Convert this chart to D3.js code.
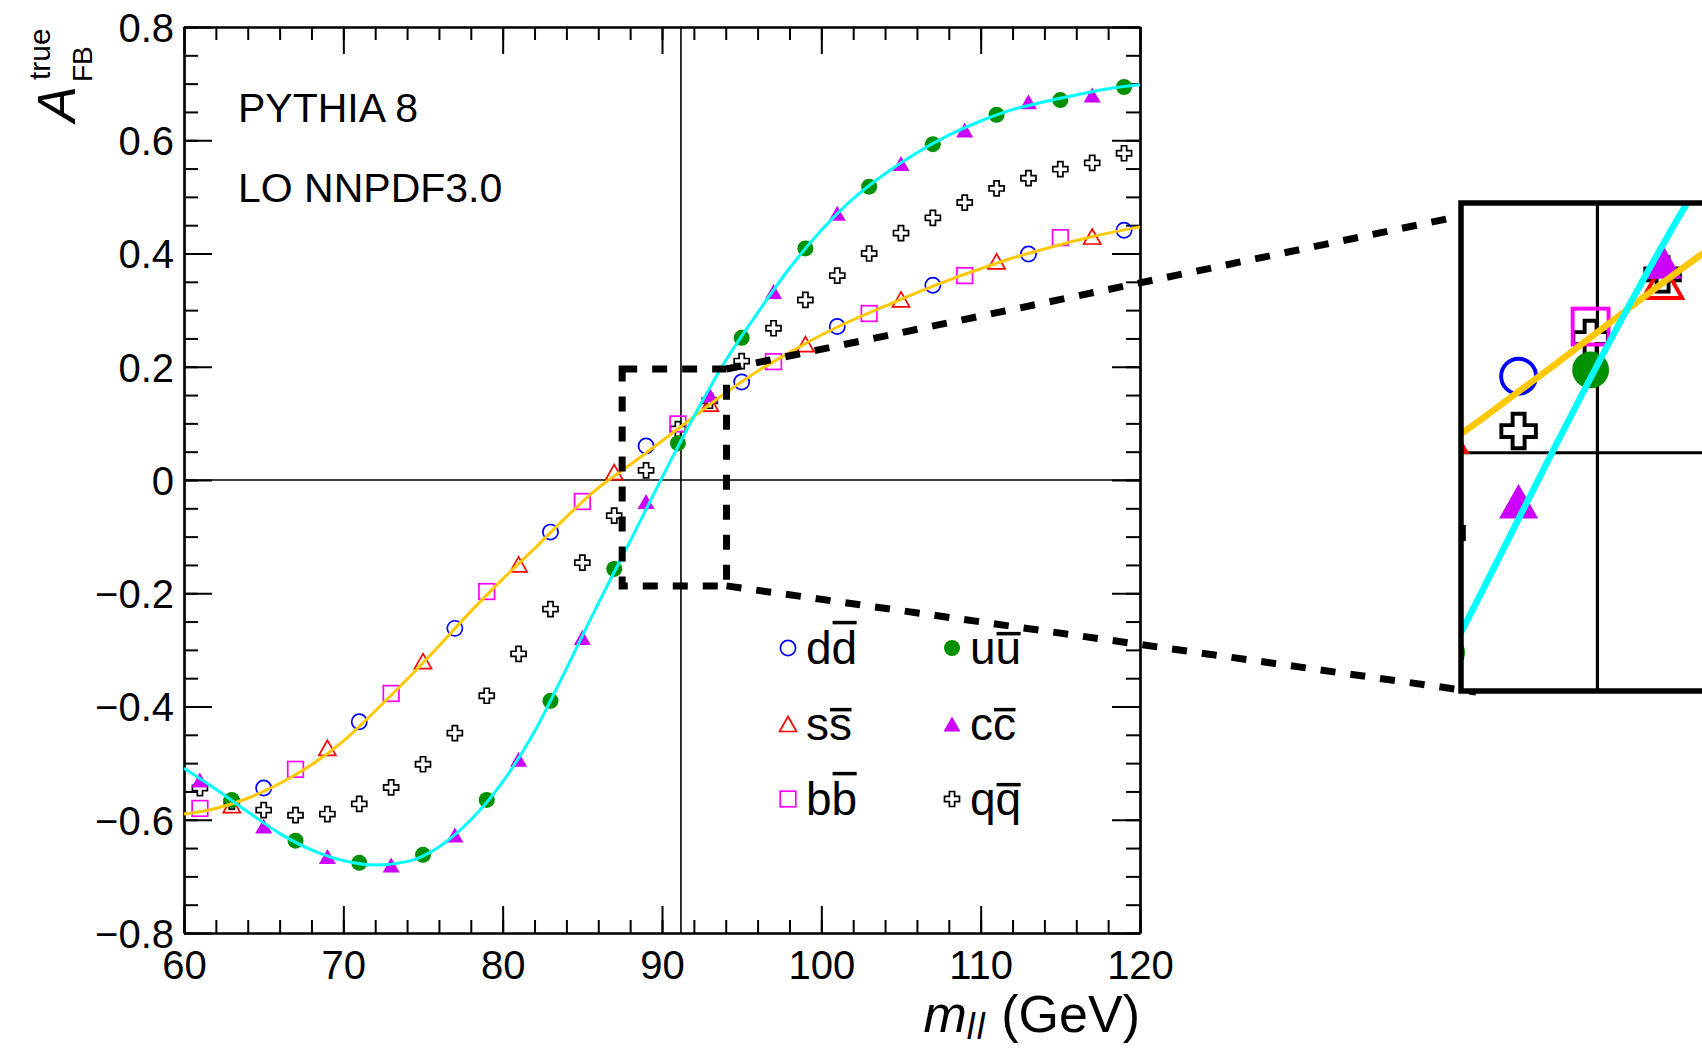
<!DOCTYPE html>
<html><head><meta charset="utf-8">
<script src="https://cdn.jsdelivr.net/npm/d3@7"></script>
<style>
body{margin:0;background:#fff}
svg{display:block}
text{font-family:"Liberation Sans",Arial,Helvetica,sans-serif;fill:#000}
</style>
</head><body>
<svg id="c" width="1702" height="1050"></svg>
<script>
// ---------------- data ----------------
const xTicks = [60, 70, 80, 90, 100, 110, 120];
const xMinorTicks = [60,62,64,66,68,70,72,74,76,78,80,82,84,86,88,90,92,94,96,98,100,102,104,106,108,110,112,114,116,118,120];
const yTicks = [-0.8, -0.6, -0.4, -0.2, 0, 0.2, 0.4, 0.6, 0.8];
const yTickLabels = ["\u22120.8", "\u22120.6", "\u22120.4", "\u22120.2", "0", "0.2", "0.4", "0.6", "0.8"];
const yMinorTicks = [-0.8,-0.75,-0.7,-0.65,-0.6,-0.55,-0.5,-0.45,-0.4,-0.35,-0.3,-0.25,-0.2,-0.15,-0.1,-0.05,0,0.05,0.1,0.15,0.2,0.25,0.3,0.35,0.4,0.45,0.5,0.55,0.6,0.65,0.7,0.75,0.8];
const xTickLabels = ["60", "70", "80", "90", "100", "110", "120"];

const massZ = 91.19;

// d dbar
const massD = [65, 71, 77, 83, 89, 95, 101, 107, 113, 119];
const afbD  = [-0.544, -0.427, -0.262, -0.092, 0.060, 0.173, 0.271, 0.344, 0.399, 0.441];
// s sbar
const massS = [63, 69, 75, 81, 87, 93, 99, 105, 111, 117];
const afbS  = [-0.574, -0.473, -0.320, -0.149, 0.014, 0.135, 0.240, 0.319, 0.386, 0.430];
// b bbar
const massB = [61, 67, 73, 79, 85, 91, 97, 103, 109, 115];
const afbB  = [-0.580, -0.511, -0.377, -0.197, -0.038, 0.099, 0.209, 0.294, 0.361, 0.428];
// u ubar
const massU = [63, 67, 71, 75, 79, 83, 87, 91, 95, 99, 103, 107, 111, 115, 119];
const afbU  = [-0.565, -0.637, -0.676, -0.662, -0.565, -0.390, -0.157, 0.065, 0.251, 0.409, 0.518, 0.593, 0.645, 0.671, 0.694];
// c cbar
const massC = [61, 65, 69, 73, 77, 81, 85, 89, 93, 97, 101, 105, 109, 113, 117];
const afbC  = [-0.530, -0.611, -0.665, -0.680, -0.627, -0.493, -0.278, -0.038, 0.150, 0.333, 0.471, 0.559, 0.618, 0.668, 0.680];
// q qbar (all)
const massQ = [61,63,65,67,69,71,73,75,77,79,81,83,85,87,89,91,93,95,97,99,101,103,105,107,109,111,113,115,117,119];
const afbQ  = [-0.544,-0.568,-0.583,-0.592,-0.590,-0.572,-0.543,-0.502,-0.447,-0.381,-0.307,-0.228,-0.146,-0.063,0.017,0.090,0.140,0.210,0.268,0.318,0.361,0.400,0.436,0.463,0.490,0.515,0.533,0.549,0.560,0.577];

// fitted curves (down-type: orange, up-type: cyan)
const curveMass = [60,62,64,66,68,70,72,74,76,78,80,82,84,86,88,90,92,94,96,98,100,102,104,106,108,110,112,114,116,118,120];
const curveDown = [-0.590,-0.580,-0.562,-0.536,-0.503,-0.461,-0.408,-0.352,-0.293,-0.232,-0.175,-0.121,-0.065,-0.014,0.027,0.069,0.112,0.154,0.192,0.225,0.256,0.283,0.307,0.331,0.353,0.373,0.392,0.408,0.423,0.436,0.447];
const curveUp   = [-0.509,-0.546,-0.586,-0.624,-0.653,-0.672,-0.680,-0.674,-0.648,-0.600,-0.533,-0.444,-0.333,-0.218,-0.108,0.004,0.112,0.211,0.295,0.374,0.441,0.497,0.541,0.578,0.609,0.634,0.654,0.668,0.680,0.691,0.698];

// zoom window (data coordinates)
const zoomMass = [87.5, 94.05];
const zoomAfb  = [-0.187, 0.196];
// inset view window (data coordinates)
const insetMass = [87.4, 94.5];

const legendLabels = ["dd", "uu", "ss", "cc", "bb", "qq"];
const annotations = ["PYTHIA 8", "LO NNPDF3.0"];

// ---------------- styles ----------------
const series = [
  {key:"q", mass:massQ, afb:afbQ, shape:"cross",  filled:false, color:"#000000"},
  {key:"d", mass:massD, afb:afbD, shape:"circle", filled:false, color:"#0000ff"},
  {key:"s", mass:massS, afb:afbS, shape:"tri",    filled:false, color:"#ff0000"},
  {key:"b", mass:massB, afb:afbB, shape:"square", filled:false, color:"#ff00ff"},
  {key:"u", mass:massU, afb:afbU, shape:"circle", filled:true,  color:"#009000"},
  {key:"c", mass:massC, afb:afbC, shape:"tri",    filled:true,  color:"#cc00ff"}
];
const legendStyle = [series[1], series[4], series[2], series[5], series[3], series[0]];
const curves = [
  {vals: curveDown, color:"#ffc800"},
  {vals: curveUp,   color:"#00ffff"}
];

// ---------------- layout ----------------
const svg = d3.select("#c");
const L = 184, R = 1140, T = 27, B = 933;
const x = d3.scaleLinear().domain([60, 120]).range([L, R]);
const y = d3.scaleLinear().domain([-0.8, 0.8]).range([B, T]);

function drawMarker(g, s, cx, cy, k) {
  const col = s.color, sw = 1.7 * k;
  if (s.shape === "circle") {
    g.append("circle").attr("cx", cx).attr("cy", cy).attr("r", (s.filled ? 8 : 7.6) * k)
      .attr("fill", s.filled ? col : "none").attr("stroke", s.filled ? "none" : col).attr("stroke-width", sw);
  } else if (s.shape === "tri") {
    const w = 8.5 * k, h = 7.5 * k;
    g.append("path").attr("d", `M${cx},${cy - h}L${cx + w},${cy + h}L${cx - w},${cy + h}Z`)
      .attr("fill", s.filled ? col : "none").attr("stroke", s.filled ? "none" : col).attr("stroke-width", sw)
      .attr("stroke-linejoin", "miter");
  } else if (s.shape === "square") {
    const h = 7.8 * k;
    g.append("rect").attr("x", cx - h).attr("y", cy - h).attr("width", 2 * h).attr("height", 2 * h)
      .attr("fill", "none").attr("stroke", col).attr("stroke-width", sw);
  } else if (s.shape === "cross") {
    const a = 7.5 * k, b = 2.6 * k;
    const p = `M${cx - b},${cy - a}H${cx + b}V${cy - b}H${cx + a}V${cy + b}H${cx + b}V${cy + a}H${cx - b}V${cy + b}H${cx - a}V${cy - b}H${cx - b}Z`;
    g.append("path").attr("d", p).attr("fill", "#fff").attr("stroke", col).attr("stroke-width", sw);
  }
}

// ---------------- main plot ----------------
const main = svg.append("g");

// reference lines
main.append("line").attr("x1", x(60)).attr("x2", x(120)).attr("y1", y(0)).attr("y2", y(0))
  .attr("stroke", "#000").attr("stroke-width", 1.6);
main.append("line").attr("x1", x(massZ)).attr("x2", x(massZ)).attr("y1", y(-0.8)).attr("y2", y(0.8))
  .attr("stroke", "#000").attr("stroke-width", 1.6);

// axes
function styleAxis(g) {
  g.selectAll("path.domain").attr("stroke", "#000").attr("stroke-width", 2.2);
  g.selectAll(".tick line").attr("stroke", "#000").attr("stroke-width", 2);
}
const fs = 40;
// bottom
const gb = main.append("g").attr("transform", `translate(0,${B})`)
  .call(d3.axisBottom(x).tickValues(xMinorTicks).tickSize(-13).tickSizeOuter(0).tickFormat(""));
styleAxis(gb);
const gb2 = main.append("g").attr("transform", `translate(0,${B})`)
  .call(d3.axisBottom(x).tickValues(xTicks).tickSize(-27).tickSizeOuter(0).tickPadding(18)
    .tickFormat((d, i) => xTickLabels[i]));
styleAxis(gb2);
gb2.selectAll("text").attr("font-size", fs).attr("font-family", "Liberation Sans, Arial, sans-serif").attr("fill", "#000");
// top
const gt = main.append("g").attr("transform", `translate(0,${T})`)
  .call(d3.axisTop(x).tickValues(xMinorTicks).tickSize(-13).tickSizeOuter(0).tickFormat(""));
styleAxis(gt);
const gt2 = main.append("g").attr("transform", `translate(0,${T})`)
  .call(d3.axisTop(x).tickValues(xTicks).tickSize(-27).tickSizeOuter(0).tickFormat(""));
styleAxis(gt2);
// left
const gl = main.append("g").attr("transform", `translate(${L},0)`)
  .call(d3.axisLeft(y).tickValues(yMinorTicks).tickSize(-14).tickSizeOuter(0).tickFormat(""));
styleAxis(gl);
const gl2 = main.append("g").attr("transform", `translate(${L},0)`)
  .call(d3.axisLeft(y).tickValues(yTicks).tickSize(-28).tickSizeOuter(0).tickPadding(10)
    .tickFormat((d, i) => yTickLabels[i]));
styleAxis(gl2);
gl2.selectAll("text").attr("font-size", fs).attr("dy", "0.36em").attr("font-family", "Liberation Sans, Arial, sans-serif").attr("fill", "#000");
// right
const gr = main.append("g").attr("transform", `translate(${R},0)`)
  .call(d3.axisRight(y).tickValues(yMinorTicks).tickSize(-14).tickSizeOuter(0).tickFormat(""));
styleAxis(gr);
const gr2 = main.append("g").attr("transform", `translate(${R},0)`)
  .call(d3.axisRight(y).tickValues(yTicks).tickSize(-28).tickSizeOuter(0).tickFormat(""));
styleAxis(gr2);

// markers
const gm = main.append("g");
series.forEach(s => s.mass.forEach((m, i) => drawMarker(gm, s, x(m), y(s.afb[i]), 1)));

// curves
const lineMain = d3.line().x((d, i) => x(curveMass[i])).y(d => y(d)).curve(d3.curveMonotoneX);
curves.forEach(c => main.append("path").attr("d", lineMain(c.vals))
  .attr("fill", "none").attr("stroke", c.color).attr("stroke-width", 3));

// annotations
main.append("text").attr("x", 238).attr("y", 122).attr("font-size", 41).text(annotations[0]);
main.append("text").attr("x", 238).attr("y", 202).attr("font-size", 41).text(annotations[1]);

// y title: A_FB^true
const yt = svg.append("g").attr("transform", "translate(75,122) rotate(-90)");
yt.append("text").attr("x", 0).attr("y", 0).attr("font-size", 54).attr("font-style", "italic").text("A");
yt.append("text").attr("x", 40).attr("y", 17).attr("font-size", 28).text("FB");
yt.append("text").attr("x", 42).attr("y", -25).attr("font-size", 30).text("true");

// x title
const xt = svg.append("text").attr("x", R).attr("y", 1032).attr("text-anchor", "end").attr("font-size", 52);
xt.append("tspan").attr("font-style", "italic").text("m");
xt.append("tspan").attr("font-style", "italic").attr("font-size", 36).attr("dy", 7).attr("letter-spacing", 2).text("ll");
xt.append("tspan").attr("dy", -7).text(" (GeV)");

// legend
const legCols = [788, 952];
const legRows = [664, 740, 815];
legendLabels.forEach((lab, i) => {
  const col = i % 2, row = Math.floor(i / 2);
  const bx = legCols[col], by = legRows[row];
  drawMarker(svg, legendStyle[i], bx, by - 16, 1);
  const t = svg.append("text").attr("x", bx + 18).attr("y", by).attr("font-size", 46).text(lab);
  const n = t.node();
  const x0 = n.getStartPositionOfChar(1).x, x1 = n.getEndPositionOfChar(1).x;
  const asc = /[bdfhklt]/.test(lab[1]);
  const oy = by - (asc ? 0.9 : 0.66) * 46;
  svg.append("line").attr("x1", x0 + 1).attr("x2", x1 - 0.5).attr("y1", oy).attr("y2", oy)
    .attr("stroke", "#000").attr("stroke-width", 3.5);
});

// zoom rectangle in main plot
const dash = "15,15";
svg.append("rect").attr("x", x(zoomMass[0])).attr("y", y(zoomAfb[1]))
  .attr("width", x(zoomMass[1]) - x(zoomMass[0])).attr("height", y(zoomAfb[0]) - y(zoomAfb[1]))
  .attr("fill", "none").attr("stroke", "#000").attr("stroke-width", 7).attr("stroke-dasharray", dash);

// ---------------- inset ----------------
const IL = 1461, IT = 203, IB = 691, pxPerGeV = 36;
const xi = d3.scaleLinear().domain(insetMass).range([IL, IL + (insetMass[1] - insetMass[0]) * pxPerGeV]);
const yi = d3.scaleLinear().domain(zoomAfb).range([IB, IT]);

// connectors
svg.append("line").attr("x1", x(zoomMass[1])).attr("y1", y(zoomAfb[1])).attr("x2", IL).attr("y2", 216)
  .attr("stroke", "#000").attr("stroke-width", 7).attr("stroke-dasharray", dash);
svg.append("line").attr("x1", x(zoomMass[1])).attr("y1", y(zoomAfb[0])).attr("x2", IL + 15).attr("y2", IB + 1)
  .attr("stroke", "#000").attr("stroke-width", 7).attr("stroke-dasharray", dash);

svg.append("clipPath").attr("id", "clipIn").append("rect")
  .attr("x", IL).attr("y", IT).attr("width", 400).attr("height", IB - IT);
const gi = svg.append("g").attr("clip-path", "url(#clipIn)");
gi.append("rect").attr("x", IL).attr("y", IT).attr("width", 400).attr("height", IB - IT).attr("fill", "#fff");
gi.append("line").attr("x1", xi(massZ)).attr("x2", xi(massZ)).attr("y1", IT).attr("y2", IB)
  .attr("stroke", "#000").attr("stroke-width", 3.2);
gi.append("line").attr("x1", IL).attr("x2", IL + 400).attr("y1", yi(0)).attr("y2", yi(0))
  .attr("stroke", "#000").attr("stroke-width", 3.2);
series.forEach(s => s.mass.forEach((m, i) => {
  if (m > insetMass[0] - 1 && m < insetMass[1] + 1) drawMarker(gi, s, xi(m), yi(s.afb[i]), 2.3);
}));
const lineIn = d3.line().x((d, i) => xi(curveMass[i])).y(d => yi(d)).curve(d3.curveMonotoneX);
curves.forEach(c => gi.append("path").attr("d", lineIn(c.vals))
  .attr("fill", "none").attr("stroke", c.color).attr("stroke-width", 6.5));
svg.append("rect").attr("x", IL).attr("y", IT).attr("width", 400).attr("height", IB - IT)
  .attr("fill", "none").attr("stroke", "#000").attr("stroke-width", 5.5);
</script>
</body></html>
